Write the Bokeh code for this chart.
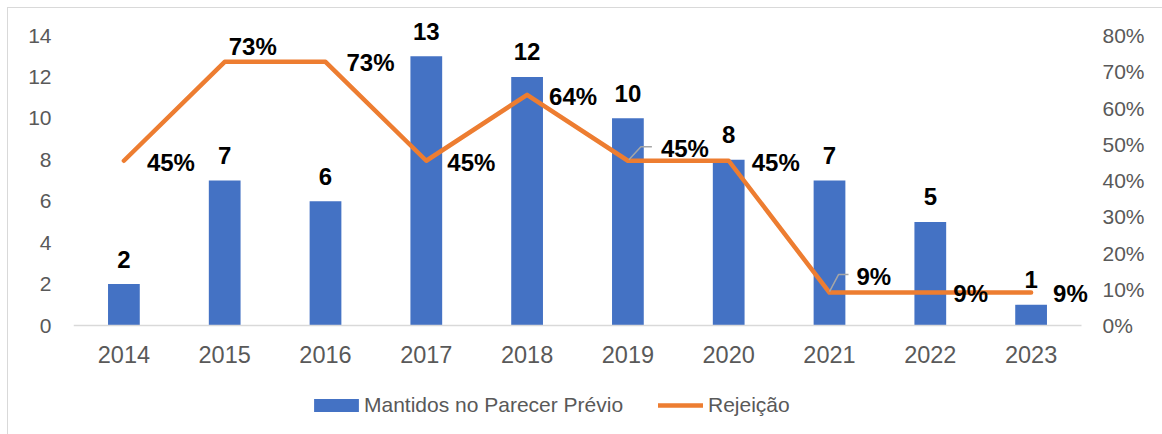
from bokeh.plotting import figure
from bokeh.models import (Range1d, LinearAxis, FixedTicker, NumeralTickFormatter,
                          ColumnDataSource, Legend, LegendItem)
from bokeh.core.properties import value
from bokeh.embed import file_html
from bokeh.resources import INLINE

# ---- data ----
years = ["2014", "2015", "2016", "2017", "2018", "2019", "2020", "2021", "2022", "2023"]
mantidos = [2, 7, 6, 13, 12, 10, 8, 7, 5, 1]
rejeicao = [0.4545, 0.7273, 0.7273, 0.4545, 0.6364, 0.4545, 0.4545, 0.0909, 0.0909, 0.0909]
left_ticks = [0, 2, 4, 6, 8, 10, 12, 14]
right_ticks = [0, 0.1, 0.2, 0.3, 0.4, 0.5, 0.6, 0.7, 0.8]
series_names = ["Mantidos no Parecer Prévio", "Rejeição"]

# ---- styling / layout (pixels) ----
FONT = "Liberation Sans"
BLUE = "#4472C4"
ORANGE = "#ED7D31"
GRAY_TXT = "#595959"
W, H = 1162, 434
LEFT = 73                    # frame left edge
AXIS_W = 1008                # pixels spanned by the 10 categories
EXTRA_R = 10                 # extra frame pixels to the right (room for last label)
FRAME_W = AXIS_W + EXTRA_R
TOP = 10                     # frame top edge
ZERO_Y = 325                 # pixel row of value 0
AXIS_H = 290                 # pixels from 0 to 14 / 0% to 80%
FRAME_H = H - TOP            # frame reaches the bottom (room for x labels + legend)
px_x = AXIS_W / len(years)
px_unit = AXIS_H / 14
px_pct = AXIS_H / 0.8
X_MIN = -0.5
X_MAX = len(years) - 0.5
LEFT_MIN = -(H - ZERO_Y) / px_unit
LEFT_MAX = (ZERO_Y - TOP) / px_unit
PCT_MIN = -(H - ZERO_Y) / px_pct
PCT_MAX = (ZERO_Y - TOP) / px_pct

lab_dx = [23, 4, 21, 21, 22, 33, 23, 27, 23, 22]
lab_dy = [2, -15, 1, 2, 2, -12, 2, -16, 1, 1]
leaders = {5: [(1, -1), (13, -14), (24, -14)],
           7: [(0, -1), (9, -18), (19, -18)]}

xs = list(range(len(years)))

p = figure(frame_width=FRAME_W, frame_height=FRAME_H,
           min_border_left=LEFT, min_border_right=W - LEFT - FRAME_W,
           min_border_top=TOP, min_border_bottom=0,
           x_range=Range1d(X_MIN, X_MAX + EXTRA_R / px_x),
           y_range=Range1d(LEFT_MIN, LEFT_MAX),
           output_backend="svg", toolbar_location=None,
           border_fill_color=None,
           styles={"box-shadow": "inset 7px 7px 0 0 #ffffff, inset 8px 8px 0 0 #d9d9d9",
                   "background-color": "#ffffff"})
p.extra_y_ranges = {"pct": Range1d(PCT_MIN, PCT_MAX)}
p.xgrid.visible = False
p.ygrid.visible = False
p.outline_line_color = None
p.background_fill_color = None

src = ColumnDataSource(dict(
    x=xs, m=mantidos, r=rejeicao,
    mlab=[str(v) for v in mantidos],
    rlab=[f"{round(v * 100)}%" for v in rejeicao],
    dx=lab_dx, dy=lab_dy))

bars = p.vbar(x="x", top="m", bottom=0, width=0.315, source=src,
              fill_color=BLUE, line_color=None)
line = p.line(x="x", y="r", source=src, y_range_name="pct", line_color=ORANGE,
              line_width=4.5, line_join="round", line_cap="round")

for i, pts in leaders.items():
    lx = [xs[i] + dx / px_x for dx, dy in pts]
    ly = [rejeicao[i] - dy / px_pct for dx, dy in pts]
    p.line(lx, ly, y_range_name="pct", line_color="#A6A6A6", line_width=1.5)

p.text(x="x", y="m", text="mlab", source=src, text_align="center",
       text_baseline="alphabetic", y_offset=-25,
       text_font=value(FONT), text_font_style="bold", text_font_size="24px",
       text_color="black")
p.text(x="x", y="r", text="rlab", source=src, y_range_name="pct",
       text_align="left", text_baseline="middle", x_offset="dx", y_offset="dy",
       text_font=value(FONT), text_font_style="bold", text_font_size="24px",
       text_color="black")

ya = p.yaxis[0]
ya.ticker = FixedTicker(ticks=left_ticks)
ya.axis_line_color = None
ya.major_tick_line_color = None
ya.minor_tick_line_color = None
ya.major_label_text_font = FONT
ya.major_label_text_font_size = "21px"
ya.major_label_text_color = GRAY_TXT
ya.major_label_standoff = 16

ra = LinearAxis(y_range_name="pct", ticker=FixedTicker(ticks=right_ticks),
                formatter=NumeralTickFormatter(format="0%"))
ra.axis_line_color = None
ra.major_tick_line_color = None
ra.minor_tick_line_color = None
ra.major_label_text_font = FONT
ra.major_label_text_font_size = "21px"
ra.major_label_text_color = GRAY_TXT
ra.major_label_standoff = 5
p.add_layout(ra, "right")

xa = p.xaxis[0]
xa.fixed_location = 0
xa.ticker = FixedTicker(ticks=xs)
xa.bounds = (X_MIN, X_MAX)
xa.major_label_overrides = {i: y for i, y in zip(xs, years)}
xa.axis_line_color = "#D9D9D9"
xa.axis_line_width = 1.5
xa.major_tick_line_color = None
xa.minor_tick_line_color = None
xa.major_label_text_font = FONT
xa.major_label_text_font_size = "23.5px"
xa.major_label_text_color = GRAY_TXT
xa.major_label_standoff = 14

legend_style = dict(orientation="horizontal", padding=0, margin=0,
                    border_line_color=None, background_fill_alpha=0,
                    label_text_font=FONT, label_text_font_size="21px",
                    label_text_color=GRAY_TXT)
# bar swatch: bokeh insets area swatches by 10% per side
leg_bar = Legend(items=[LegendItem(label=series_names[0], renderers=[bars])],
                 location=(308 - LEFT, 17), glyph_width=56, glyph_height=16,
                 label_standoff=0, **legend_style)
leg_line = Legend(items=[LegendItem(label=series_names[1], renderers=[line])],
                  location=(658 - LEFT, 17), glyph_width=45, glyph_height=16,
                  label_standoff=5, **legend_style)
p.add_layout(leg_bar, "center")
p.add_layout(leg_line, "center")

open("out.html", "w").write(file_html(p, INLINE))
